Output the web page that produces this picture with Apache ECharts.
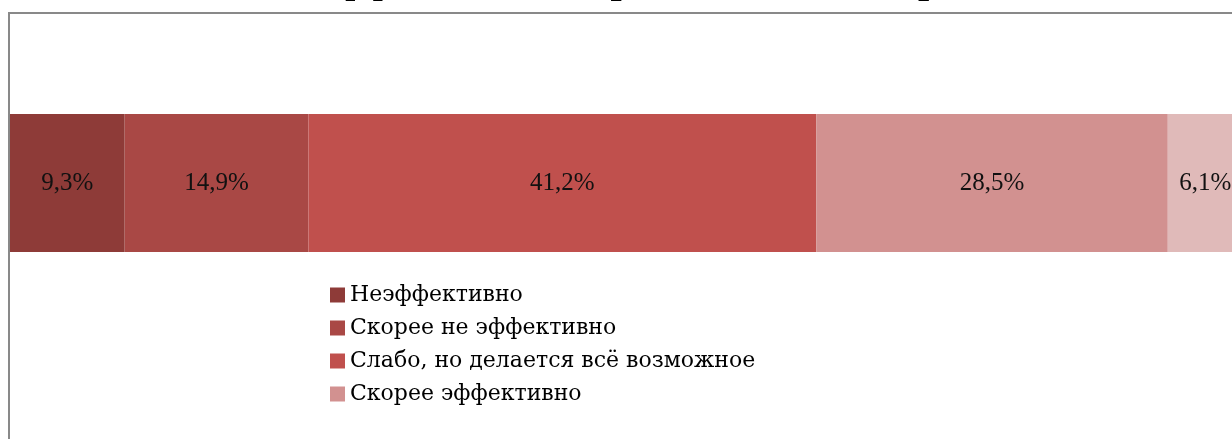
<!DOCTYPE html>
<html>
<head>
<meta charset="utf-8">
<script src="https://cdn.jsdelivr.net/npm/echarts@6/dist/echarts.min.js"></script>
<style>
    html, body { margin: 0; padding: 0; background: #fff; }
    #chart { width: 1232px; height: 439px; }
</style>
</head>
<body>
<div id="chart"></div>
<script>
//данные диаграммы
var categories = ['Оценка'];
var seriesNames = ['Неэффективно', 'Скорее не эффективно', 'Слабо, но делается всё возможное', 'Скорее эффективно', 'Эффективно'];
var seriesValues = [9.3, 14.9, 41.2, 28.5, 6.1];
var seriesColors = ['#8e3b38', '#a94845', '#c0504d', '#d29190', '#e0bab9'];
var legendNames = ['Неэффективно', 'Скорее не эффективно', 'Слабо, но делается всё возможное', 'Скорее эффективно'];

var chartObj = echarts.init(document.getElementById('chart'));

var series = [];
for (var i = 0; i < seriesNames.length; i++) {
    series.push({
        name: seriesNames[i],
        type: 'bar',
        stack: 'total',
        barWidth: '100%',
        data: [seriesValues[i]],
        itemStyle: { color: seriesColors[i] },
        label: {
            show: true,
            position: 'inside',
            color: '#111',
            fontSize: 25,
            fontFamily: 'Liberation Serif',
            formatter: function (p) {
                return String(p.value).replace('.', ',') + '%';
            }
        }
    });
}

var chartOption = {
    animation: false,
    title: {
        text: 'Оценка эффективности работы власти в регионе',
        left: 'center',
        top: -43,
        textStyle: {
            fontFamily: 'Liberation Serif',
            fontWeight: 'bold',
            fontSize: 40,
            color: '#000'
        }
    },
    graphic: [{
        type: 'rect',
        shape: { x: 9, y: 13, width: 1300, height: 500 },
        style: { fill: null, stroke: '#898989', lineWidth: 2 },
        z: 0
    }],
    legend: {
        data: legendNames,
        orient: 'vertical',
        left: 325,
        top: 279,
        itemWidth: 15,
        itemHeight: 15,
        itemGap: 11,
        icon: 'rect',
        textStyle: {
            fontFamily: 'DejaVu Serif',
            fontSize: 22,
            color: '#000'
        }
    },
    grid: {
        left: 10,
        width: 1233,
        top: 114,
        height: 138,
        outerBoundsMode: 'none'
    },
    xAxis: {
        type: 'value',
        min: 0,
        max: 100,
        show: false
    },
    yAxis: {
        type: 'category',
        data: categories,
        show: false
    },
    series: series
};
chartObj.setOption(chartOption);
</script>
</body>
</html>
